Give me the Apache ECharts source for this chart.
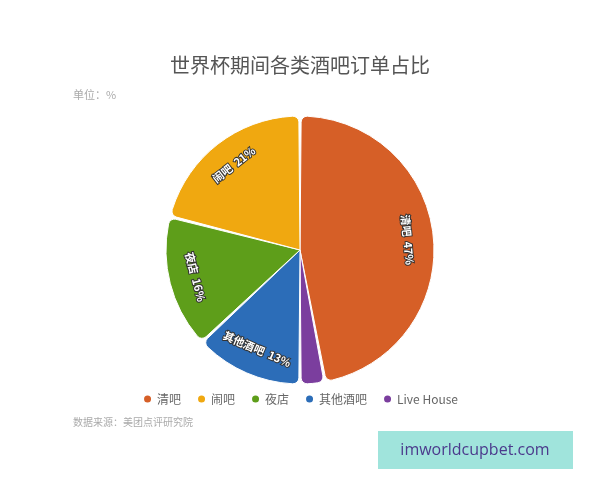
<!DOCTYPE html>
<html>
<head>
    <meta charset="utf-8" />
    <title>世界杯期间各类酒吧订单占比</title>
    <script src="https://cdn.jsdelivr.net/npm/echarts@6/dist/echarts.min.js"></script>
    <style>
        html, body { margin: 0; padding: 0; background: #fff; }
    </style>
</head>
<body>
<div id="main" style="width: 600px;height:480px;"></div>

<script type="text/javascript">
    // 饼图数据（按顺时针绘制顺序）
    var categories = ['清吧', 'Live House', '其他酒吧', '夜店', '闹吧'];
    var values = [47, 3, 13, 16, 21];
    var colors = ['#D65F27', '#7B3E9E', '#2C6DB8', '#5E9E1A', '#F0A810'];
    // 图例顺序
    var legendNames = ['清吧', '闹吧', '夜店', '其他酒吧', 'Live House'];

    var font = '"Noto Sans CJK SC", "Noto Sans", sans-serif';

    var pieData = categories.map(function (name, i) {
        return { name: name, value: values[i], itemStyle: { color: colors[i] } };
    });
    // 标签层：透明扇区，只用来把标签放到靠外的位置
    var labelData = categories.map(function (name, i) {
        return {
            name: name,
            value: values[i],
            label: { show: values[i] >= 5 }
        };
    });

    var myChart = echarts.init(document.getElementById('main'));

    var option = {
        backgroundColor: '#fff',
        animation: false,
        title: {
            text: '世界杯期间各类酒吧订单占比',
            left: 'center',
            top: 50,
            textStyle: { fontFamily: font, fontSize: 20, fontWeight: 'normal', color: '#555' }
        },
        legend: {
            data: legendNames,
            top: 388,
            left: 'center',
            icon: 'circle',
            itemWidth: 9,
            itemHeight: 9,
            itemGap: 15,
            textStyle: { fontFamily: font, fontSize: 12, color: '#666' }
        },
        graphic: [
            {
                type: 'text', left: 73, top: 89,
                style: { text: '单位：%', fill: '#aaa', font: '11px ' + font }
            },
            {
                type: 'text', left: 73, top: 417,
                style: { text: '数据来源：美团点评研究院', fill: '#aaa', font: '10px ' + font }
            },
            {
                type: 'group', left: 378, top: 431,
                children: [
                    { type: 'rect', shape: { x: 0, y: 0, width: 195, height: 38 }, style: { fill: '#A0E4DC' } },
                    {
                        type: 'text', x: 97, y: 19,
                        style: { text: 'imworldcupbet.com', fill: '#4B3A8C', font: '16px "Open Sans", sans-serif', align: 'center', verticalAlign: 'middle' }
                    }
                ]
            }
        ],
        series: [
            {
                name: '订单占比',
                type: 'pie',
                center: [300, 250],
                radius: 134,
                startAngle: 90,
                clockwise: true,
                padAngle: 1,
                itemStyle: { borderRadius: 6, borderColor: '#fff', borderWidth: 1 },
                label: { show: false },
                labelLine: { show: false },
                data: pieData
            },
            {
                name: '标签',
                type: 'pie',
                center: [300, 250],
                radius: [76, 134],
                startAngle: 90,
                clockwise: true,
                silent: true,
                itemStyle: { color: 'rgba(0,0,0,0)', borderWidth: 0 },
                emphasis: { disabled: true },
                label: {
                    position: 'inside',
                    rotate: 'tangential',
                    formatter: '{b}  {c}%',
                    color: '#fff',
                    fontFamily: font,
                    fontSize: 11,
                    fontWeight: 'bold',
                    textBorderColor: '#333',
                    textBorderWidth: 2
                },
                labelLine: { show: false },
                data: labelData
            }
        ]
    };

    myChart.setOption(option);
</script>
</body>
</html>
